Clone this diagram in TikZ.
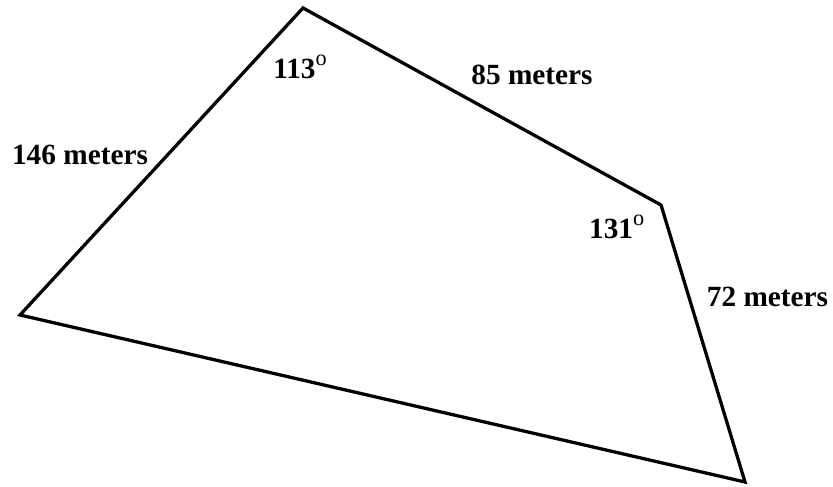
\documentclass[tikz,border=0pt]{standalone}
\usepackage{fontspec}
\setmainfont{Liberation Serif}
\usetikzlibrary{positioning, calc}

\newcommand{\degmark}{\raisebox{0.45em}{\mdseries\fontsize{19}{19}\selectfont o}}

\begin{document}
\begin{tikzpicture}[
    side/.style={line width=2.8pt, line join=miter},
    lbl/.style={font=\bfseries\fontsize{25}{29}\selectfont, inner sep=0pt}
]
    \useasboundingbox (0,0) rectangle (24.99,14.61);
    \coordinate (top) at (9.09,14.37);
    \coordinate (right) at (19.83,8.46);
    \coordinate (bottom) at (22.35,0.15);
    \coordinate (left) at (0.6,5.16);

    \draw[side] (left) -- (top) -- (right) -- (bottom) -- cycle;

    \node[lbl] (angtop) at (9.0,12.6) {113\degmark};
    \node[lbl] (angright) at (18.5,7.8) {131\degmark};
    \node[lbl] (sidetr) at (15.96,12.36) {85 meters};
    \node[lbl] (sidetl) at (2.4,9.96) {146 meters};
    \node[lbl, anchor=east] (siderb) at (24.85,5.7) {72 meters};
\end{tikzpicture}
\end{document}
